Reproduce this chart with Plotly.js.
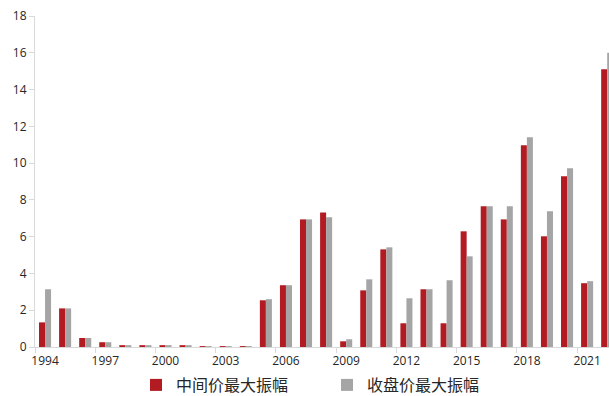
<!DOCTYPE html>
<html>
<head>
<meta charset="utf-8">
<script src="https://cdn.plot.ly/plotly-3.0.1.min.js"></script>
<style>html,body{margin:0;padding:0;overflow:hidden;background:#fff;}#chart{width:609px;height:396px;}</style>
</head>
<body>
<div id="chart"></div>
<script>
const years = [1994,1995,1996,1997,1998,1999,2000,2001,2002,2003,2004,2005,2006,2007,2008,2009,2010,2011,2012,2013,2014,2015,2016,2017,2018,2019,2020,2021,2022];
const midAmp = [1.34,2.1,0.49,0.26,0.1,0.1,0.1,0.1,0.05,0.05,0.05,2.54,3.36,6.94,7.32,0.31,3.08,5.31,1.29,3.14,1.29,6.29,7.65,6.94,10.97,6.02,9.28,3.47,15.1];
const closeAmp = [3.14,2.1,0.49,0.26,0.1,0.1,0.1,0.1,0.05,0.05,0.05,2.6,3.36,6.94,7.05,0.42,3.68,5.42,2.65,3.14,3.63,4.93,7.65,7.65,11.4,7.38,9.72,3.58,16.0];
const seriesNames = ['中间价最大振幅','收盘价最大振幅'];
const tickYears = [1994,1997,2000,2003,2006,2009,2012,2015,2018,2021];

const font = {family: 'Open Sans, Noto Sans CJK SC, sans-serif', size: 12, color: '#262626'};
const xr = [years[0]-0.5, 2022.09];

const traces = [
  {type:'bar', x: years, y: midAmp, name: seriesNames[0], marker:{color:'#B31B23'}},
  {type:'bar', x: years, y: closeAmp, name: seriesNames[1], marker:{color:'#A5A5A5'}},
  {type:'scatter', x:[years[0]], y:[0], xaxis:'x2', mode:'markers', marker:{opacity:0}, showlegend:false, hoverinfo:'skip'}
];

const layout = {
  width: 609, height: 396,
  margin: {l:35, r:0, t:16, b:49},
  paper_bgcolor:'#fff', plot_bgcolor:'#fff',
  font: font,
  barmode:'group', bargap:0.4, bargroupgap:0,
  showlegend:true,
  legend:{orientation:'h', xref:'container', yref:'container', x:136/609, xanchor:'left', y:11/396, yanchor:'middle',
          entrywidth:146, entrywidthmode:'pixels',
          font:{family:'Noto Sans CJK SC, sans-serif', size:16, color:'#262626'}, itemclick:false},
  xaxis:{type:'linear', range:xr, tickvals:tickYears, ticktext:tickYears.map(String), ticks:'outside', ticklen:3, tickcolor:'rgba(0,0,0,0)', showline:true, linecolor:'#D9D9D9', linewidth:1, showgrid:false, zeroline:false, tickfont:{size:12}},
  xaxis2:{type:'linear', overlaying:'x', anchor:'y', side:'bottom', range:xr, tickvals:tickYears.map(v=>v-0.5), ticks:'outside', ticklen:5, tickcolor:'#D9D9D9', showticklabels:false, showgrid:false, zeroline:false, showline:false},
  yaxis:{range:[0,18], dtick:2, tick0:0, ticks:'outside', ticklen:5, tickcolor:'#D9D9D9', showline:true, linecolor:'#D9D9D9', linewidth:1, showgrid:false, zeroline:false, tickfont:{size:12}}
};

Plotly.newPlot('chart', traces, layout, {displayModeBar:false, staticPlot:true});
</script>
</body>
</html>
